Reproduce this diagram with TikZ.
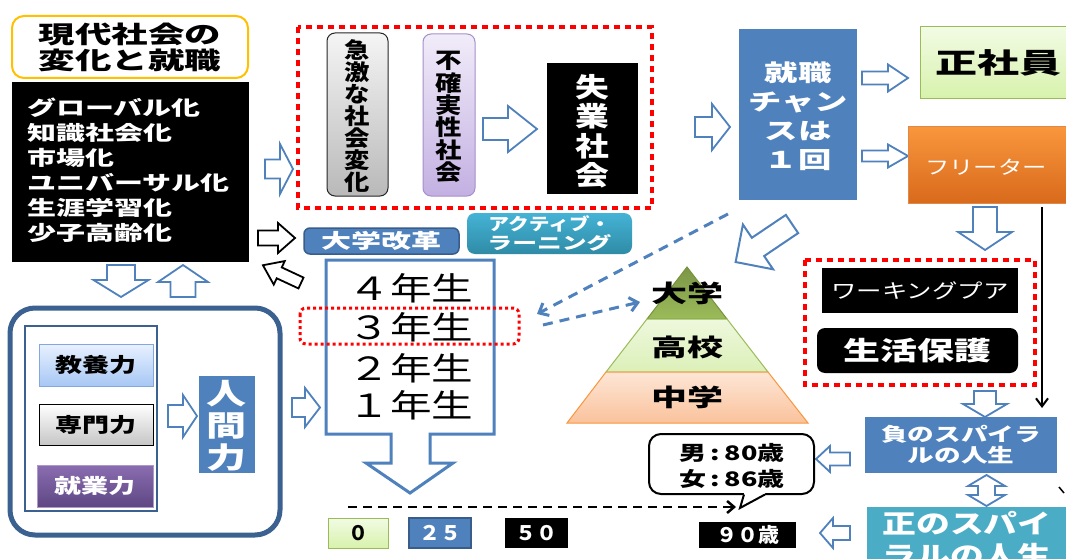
\documentclass[tikz,border=0pt]{standalone}
\usepackage{fontspec}
\setmainfont{Noto Sans CJK JP}
\usepackage{graphicx}
\usetikzlibrary{arrows.meta}
\definecolor{blu}{HTML}{4F81BD}
\definecolor{dblu}{HTML}{385D8A}
\definecolor{frm}{HTML}{3B6190}
\definecolor{ttlc}{HTML}{FFC000}
\definecolor{tealc}{HTML}{4BACC6}
\definecolor{tealt}{HTML}{45B3D6}
\definecolor{dteal}{HTML}{2F8BA6}
\definecolor{orgt}{HTML}{F9963C}
\definecolor{orgb}{HTML}{D86A1C}
\definecolor{grnb}{HTML}{9BBB59}
\definecolor{dgrn}{HTML}{77933C}
\definecolor{lgrnt}{HTML}{F2FBE4}
\definecolor{lgrnb}{HTML}{D7F2AC}
\definecolor{purt}{HTML}{8A6DB0}
\definecolor{purb}{HTML}{5E4783}
\definecolor{lavt}{HTML}{F1ECF9}
\definecolor{lavb}{HTML}{C3B0E2}
\definecolor{lavd}{HTML}{A58FCB}
\definecolor{skyt}{HTML}{E8F1FF}
\definecolor{skyb}{HTML}{A7C7F4}
\definecolor{skyd}{HTML}{82A8DF}
\definecolor{peat}{HTML}{FDE6D6}
\definecolor{peab}{HTML}{FAC29C}
\definecolor{pgrt}{HTML}{EEF8DD}
\definecolor{pgrb}{HTML}{DCF0B8}
\newcommand\hs[2]{\scalebox{#1}[1]{#2}}
% vertical stack: scale, baselineskip, \hbox{..}\hbox{..}...
\newcommand\vstk[3]{\hs{#1}{\vbox{\baselineskip=#2pt\lineskiplimit=-100pt\lineskip=0pt #3}}}
\newcommand\barrow[8][]{\draw[#1,shift={(#2,#3)},rotate=#4] (0,-#7) -- ({#5-#6},-#7) -- ({#5-#6},-#8) -- (#5,0) -- ({#5-#6},#8) -- ({#5-#6},#7) -- (0,#7) -- cycle;}
\tikzset{
  barr/.style={draw=blu, line width=1.8pt, fill=white, line join=miter},
  karr/.style={draw=black, line width=1.8pt, fill=white, line join=miter},
  reddot/.style={draw=red, line width=4pt, dash pattern=on 6pt off 5pt},
  sz/.style 2 args={minimum width=#1pt, minimum height=#2pt, inner sep=0pt},
  tx/.style={inner sep=0pt, align=center},
  fnt/.style 2 args={font=\fontsize{#1}{#2}\selectfont},
  fntb/.style 2 args={font=\fontsize{#1}{#2}\selectfont\bfseries},
  dasharr/.style={blu, line width=3pt, dash pattern=on 10pt off 7pt, -{Straight Barb[length=8pt,width=14pt]}},
  numbox/.style={sz={#1}{30}, fntb={20}{20}},
}
\begin{document}
\begin{tikzpicture}[x=1pt,y=-1pt]
\useasboundingbox (0,0) rectangle (1066,559);
\clip (0,0) rectangle (1066,559);
\fill[white] (0,0) rectangle (1066,559);

% ---------- title and list ----------
\node[draw=ttlc, line width=2pt, rounded corners=12pt, fill=white, sz={236}{62}, tx, fntb={24}{26}] (title) at (130,47) {\hs{1.52}{現代社会の}\\\hs{1.52}{変化と就職}};
\node[fill=black, sz={237}{180}] (list) at (130.5,172) {};
\foreach \t [count=\i from 0] in {グローバル化,知識社会化,市場化,ユニバーサル化,生涯学習化,少子高齢化}
  \node[text=white, anchor=west, inner sep=0pt, fntb={20}{20}] (l\i) at (27,{108+24.9*\i}) {\hs{1.45}{\t}};

\barrow[barr]{265}{169}{0}{28}{13}{9.5}{25}

% ---------- crisis group ----------
\draw[reddot] (298,27) rectangle (652,208);
\node[draw=gray!30!black, line width=1pt, rounded corners=8pt, top color=gray!8, bottom color=gray!55, sz={61}{163}] (rapid) at (357.5,114.5) {};
\node[tx, fntb={22}{22}] (rapidt) at (357.5,116) {\vstk{1.15}{22}{\hbox{急}\hbox{激}\hbox{な}\hbox{社}\hbox{会}\hbox{変}\hbox{化}}};
\node[draw=lavd, line width=1pt, rounded corners=8pt, top color=lavt, bottom color=lavb, sz={52}{162}] (uncert) at (449,115) {};
\node[tx, fntb={22}{22}] (uncertt) at (449,117) {\vstk{1.2}{22.4}{\hbox{不}\hbox{確}\hbox{実}\hbox{性}\hbox{社}\hbox{会}}};
\barrow[barr]{483}{129}{0}{54}{29}{11}{23}
\node[fill=black, sz={91}{131}] (unemp) at (592.5,128.5) {};
\node[tx, text=white, fntb={27}{27}] (unempt) at (592.5,131) {\vstk{1.25}{29.5}{\hbox{失}\hbox{業}\hbox{社}\hbox{会}}};

% ---------- chance ----------
\barrow[barr]{695}{127}{0}{35}{18}{10}{23}
\node[fill=blu, sz={118}{171}] (chance) at (798,114.5) {};
\node[tx, text=white, fntb={23}{29}] (chancet) at (798,116.5) {\hs{1.45}{就職}\\\hs{1.45}{チャン}\\\hs{1.45}{スは}\\\hs{1.45}{１回}};
\barrow[barr]{862}{78}{0}{46}{20}{6.5}{13.5}
\barrow[barr]{862}{156}{0}{46}{20}{5.5}{11.5}
\node[draw=grnb, line width=1pt, top color=lgrnt, bottom color=lgrnb, sz={170}{72}] (regular) at (1005,63) {};
\node[tx, fntb={28}{28}] (regulart) at (998,63) {\hs{1.5}{正社員}};
\node[draw=orgb!80, line width=1pt, top color=orgt, bottom color=orgb, sz={182}{76}] (freeter) at (999,165) {};
\node[tx, text=white, fnt={19}{19}] (freetert) at (986,167) {\hs{1.28}{フリーター}};

% ---------- right column ----------
\barrow[barr]{985}{207}{270}{43}{18}{12}{27}
\coordinate (vtop) at (1042,207);
\coordinate (vbot) at (1042,408);
\draw[line width=2pt, -{Straight Barb[length=8pt,width=12pt]}] (vtop) -- (vbot);
\draw[reddot] (805,260) rectangle (1035,385);
\node[fill=black, sz={196}{45}, text=white, fnt={20}{20}] (wp) at (920,290.5) {\hs{1.27}{ワーキングプア}};
\node[fill=black, rounded corners=8pt, sz={201}{45}, text=white, fntb={26}{26}] (welfare) at (917.5,350.5) {\hs{1.42}{生活保護}};
\barrow[barr]{985}{391}{270}{26}{13}{11}{22}
\node[fill=blu, sz={192}{56}, text=white, tx, fntb={19}{21}] (neg) at (961,445) {\hs{1.4}{負のスパイラ}\\\hs{1.4}{ルの人生}};
\draw[barr] (986.5,475) -- (1005,486) -- (995,486) -- (995,495) -- (1005,495) -- (986.5,506) -- (968,495) -- (978,495) -- (978,486) -- (968,486) -- cycle;
\node[fill=tealc, sz={223}{83}] (pos) at (978.5,548.5) {};
\node[tx, text=white, fntb={26}{32}] (post) at (967,539) {\hs{1.3}{正のスパイ}\\\hs{1.3}{ラルの人生}};
\draw[line width=1.5pt] (1059,487) -- (1064,493);
\barrow[barr]{850}{459}{180}{34}{14}{6.5}{13}
\barrow[barr]{850}{533}{180}{30}{13}{7}{15}

% ---------- speech bubble and timeline ----------
\node[draw=black, line width=2pt, fill=white, rounded corners=12pt, sz={165}{60}] (bub) at (731.5,464) {};
\fill[white] (744,491) -- (744,494) -- (740,508) -- (765,494) -- (765,491) -- cycle;
\draw[line width=2pt, line join=miter] (744,494.5) -- (740,508) -- (765,494.5);
\node[tx, fntb={20}{20}] (male) at (732,453) {\hs{1.35}{男\,:\,80歳}};
\node[tx, fntb={20}{20}] (female) at (732,479) {\hs{1.35}{女\,:\,86歳}};
\coordinate (tls) at (348,507);
\coordinate (tle) at (736,507);
\draw[line width=2.5pt, dash pattern=on 9pt off 6pt, -{Straight Barb[length=7pt,width=12pt]}] (tls) -- (tle);
\node[numbox=60, draw=grnb, line width=1pt, top color=lgrnt, bottom color=lgrnb] (n0) at (358,533) {０};
\node[numbox=62, draw=dblu, line width=1.5pt, fill=blu, text=white] (n25) at (440,533) {\hs{1.05}{２５}};
\node[numbox=63, fill=black, text=white] (n50) at (536.5,533) {\hs{1.05}{５０}};
\node[sz={97}{26}, fntb={20}{20}, fill=black, text=white] (n90) at (747.5,535) {\hs{1.05}{９０歳}};

% ---------- university column ----------
\draw[draw=blu, line width=3pt, fill=white, line join=miter] (326,260) -- (494,260) -- (494,434) -- (430,434) -- (430,463) -- (453,463) -- (410,493) -- (366,463) -- (391,463) -- (391,434) -- (326,434) -- cycle;
\node[tx, fnt={32}{32}] (y4) at (411,288) {\hs{1.3}{４年生}};
\node[tx, fnt={32}{32}] (y3) at (411,327) {\hs{1.3}{３年生}};
\node[tx, fnt={32}{32}] (y2) at (411,368) {\hs{1.3}{２年生}};
\node[tx, fnt={32}{32}] (y1) at (411,405) {\hs{1.3}{１年生}};
\draw[draw=red, line width=3pt, dash pattern=on 3pt off 3pt, rounded corners=6pt] (300,308) rectangle (519,344);
\node[draw=dblu, line width=1.5pt, fill=blu, rounded corners=6pt, sz={155}{26}, text=white, fntb={20}{20}] (reform) at (381.5,241) {\hs{1.5}{大学改革}};
\node[top color=tealt, bottom color=dteal, rounded corners=8pt, sz={165}{41}, text=white, tx, fntb={17}{19}] (al) at (549.5,233.5) {\hs{1.22}{アクティブ・}\\\hs{1.46}{ラーニング}};
\barrow[karr]{258}{238}{0}{37}{17}{7.5}{15}
\barrow[karr]{301}{283}{155}{42}{18}{6}{13}

% ---------- pyramid ----------
\barrow[barr, line width=2pt]{792}{224}{214}{68}{27}{11}{27}
\draw[draw=dgrn, line width=1pt, top color=grnb!80!black, bottom color=grnb] (687,267) -- (727,319) -- (647,319) -- cycle;
\draw[draw=grnb, line width=1pt, top color=pgrt, bottom color=pgrb] (647,319) -- (727,319) -- (768,372) -- (606,372) -- cycle;
\draw[draw=orgt, line width=1pt, top color=peat, bottom color=peab] (606,372) -- (768,372) -- (808,423) -- (567,423) -- cycle;
\node[tx, fntb={24}{24}] (univ) at (687,293) {\hs{1.5}{大学}};
\node[tx, fntb={24}{24}] (high) at (687,347) {\hs{1.5}{高校}};
\node[tx, fntb={24}{24}] (junior) at (687,397) {\hs{1.5}{中学}};
\coordinate (d1s) at (728,214);
\coordinate (d1e) at (537,314);
\coordinate (d2s) at (543,325);
\coordinate (d2e) at (640,302);
\draw[dasharr] (d1s) -- (d1e);
\draw[dasharr] (d2s) -- (d2e);

% ---------- skills ----------
\barrow[barr]{121}{265}{270}{32}{17}{14}{27.5}
\barrow[barr]{183}{297}{90}{32}{17}{12.5}{25}
\node[draw=frm, line width=5pt, rounded corners=25pt, sz={270}{227}] (skills) at (145,421.5) {};
\node[draw=frm, line width=2pt, sz={132}{185}] (inner) at (91,418.5) {};
\node[draw=skyd, line width=1pt, top color=skyt, bottom color=skyb, sz={114}{42}, fntb={20}{20}] (kyoyo) at (96,365) {\hs{1.35}{教養力}};
\node[draw=black, line width=1pt, top color=white, bottom color=gray!45, sz={114}{41}, fntb={20}{20}] (senmon) at (96,424.5) {\hs{1.35}{専門力}};
\node[draw=purt!70, line width=1pt, top color=purt, bottom color=purb, sz={116}{42}, text=white, fntb={20}{20}] (shugyo) at (95,486) {\hs{1.35}{就業力}};
\barrow[barr]{168}{416}{0}{29}{14}{11}{21}
\node[fill=blu, sz={56}{97}] (ningen) at (227,424.5) {};
\node[tx, text=white, fntb={29}{29}] (ningent) at (227,426) {\vstk{1.38}{32}{\hbox{人}\hbox{間}\hbox{力}}};
\barrow[barr]{292}{407.5}{0}{28}{15}{9.5}{19.5}
\end{tikzpicture}
\end{document}
